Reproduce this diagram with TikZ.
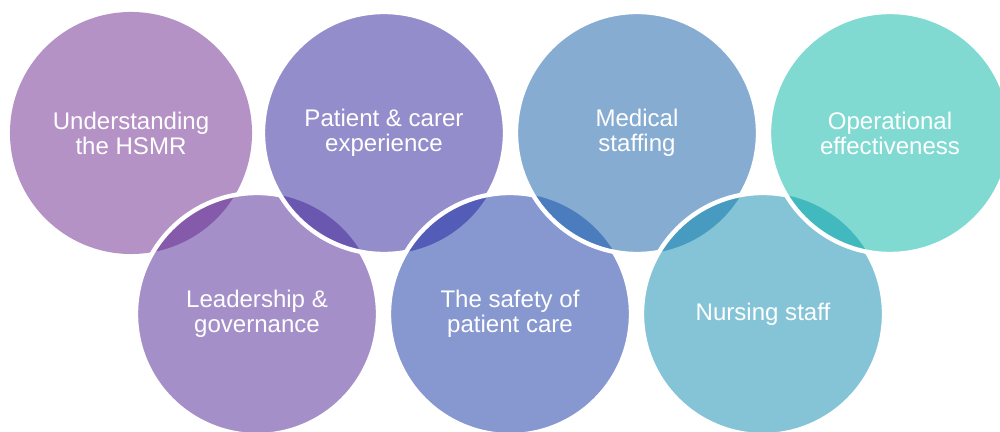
\documentclass[tikz,border=0pt]{standalone}
\usepackage{fontspec}
\setmainfont{Liberation Sans}
% disc colours
\definecolor{dA}{RGB}{181,146,197}
\definecolor{dB}{RGB}{165,143,200}
\definecolor{dC}{RGB}{148,141,203}
\definecolor{dD}{RGB}{135,151,208}
\definecolor{dE}{RGB}{134,172,210}
\definecolor{dF}{RGB}{132,196,214}
\definecolor{dG}{RGB}{128,218,210}
% overlap colours
\definecolor{lA}{RGB}{133,90,170}
\definecolor{lB}{RGB}{106,87,176}
\definecolor{lC}{RGB}{83,92,183}
\definecolor{lD}{RGB}{74,124,190}
\definecolor{lE}{RGB}{71,155,192}
\definecolor{lF}{RGB}{66,185,190}
\newcommand\rad{3.025cm}
\begin{document}
\begin{tikzpicture}[x=0.025cm,y=-0.025cm,
  rim/.style={draw=white, line width=0.11cm},
  caption/.style={text=white, align=center, inner sep=0pt,
    font=\fontsize{17.1}{17.8}\selectfont}]
\useasboundingbox (0,0) rectangle (1000,432);
% disc centres
\coordinate (t1) at (131,133);
\coordinate (t2) at (384,133);
\coordinate (t3) at (637,133);
\coordinate (t4) at (890,133);
\coordinate (b1) at (257,314);
\coordinate (b2) at (510,314);
\coordinate (b3) at (763,314);
% discs, each laid over the previous one with a darker overlap and a white rim
\fill[dA] (t1) circle[radius=\rad];
\fill[dB] (b1) circle[radius=\rad];
\begin{scope}\clip (t1) circle[radius=\rad]; \fill[lA] (b1) circle[radius=\rad];\end{scope}
\draw[rim] (b1) circle[radius=\rad];
\fill[dC] (t2) circle[radius=\rad];
\begin{scope}\clip (b1) circle[radius=\rad]; \fill[lB] (t2) circle[radius=\rad];\end{scope}
\draw[rim] (t2) circle[radius=\rad];
\fill[dD] (b2) circle[radius=\rad];
\begin{scope}\clip (t2) circle[radius=\rad]; \fill[lC] (b2) circle[radius=\rad];\end{scope}
\draw[rim] (b2) circle[radius=\rad];
\fill[dE] (t3) circle[radius=\rad];
\begin{scope}\clip (b2) circle[radius=\rad]; \fill[lD] (t3) circle[radius=\rad];\end{scope}
\draw[rim] (t3) circle[radius=\rad];
\fill[dF] (b3) circle[radius=\rad];
\begin{scope}\clip (t3) circle[radius=\rad]; \fill[lE] (b3) circle[radius=\rad];\end{scope}
\draw[rim] (b3) circle[radius=\rad];
\fill[dG] (t4) circle[radius=\rad];
\begin{scope}\clip (b3) circle[radius=\rad]; \fill[lF] (t4) circle[radius=\rad];\end{scope}
\draw[rim] (t4) circle[radius=\rad];
% captions
\node[caption] (n1) at (t1) {Understanding\\the HSMR};
\node[caption] (n2) at (t2) {Patient \& carer\\experience};
\node[caption] (n3) at (t3) {Medical\\staffing};
\node[caption] (n4) at (t4) {Operational\\effectiveness};
\node[caption] (n5) at (b1) {Leadership \&\\governance};
\node[caption] (n6) at (b2) {The safety of\\patient care};
\node[caption] (n7) at (b3) {Nursing staff};
\end{tikzpicture}
\end{document}
